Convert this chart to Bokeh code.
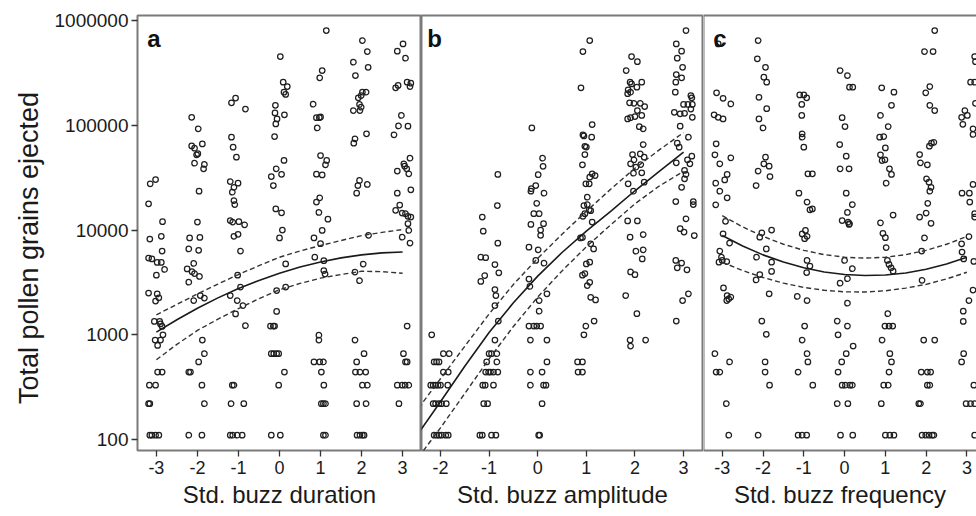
from bokeh.plotting import figure
from bokeh.models import FixedTicker, LinearAxis, Span, Label, Range1d
from bokeh.layouts import row
from bokeh.embed import file_html
from bokeh.resources import INLINE

FONT = "Liberation Sans"

# ---------------- data ----------------
y_ticks = [100, 1000, 10000, 100000, 1000000]
y_tick_labels = ["100", "1000", "10000", "100000", "1000000"]
y_title = "Total pollen grains ejected"

a_ticks = [-3, -2, -1, 0, 1, 2, 3]
a_tick_labels = ["-3", "-2", "-1", "0", "1", "2", "3"]
b_ticks = [-2, -1, 0, 1, 2, 3]
b_tick_labels = ["-2", "-1", "0", "1", "2", "3"]
c_ticks = [-3, -2, -1, 0, 1, 2, 3]
c_tick_labels = ["-3", "-2", "-1", "0", "1", "2", "3"]
a_title = "Std. buzz duration"
b_title = "Std. buzz amplitude"
c_title = "Std. buzz frequency"
panel_letters = ["a", "b", "c"]

# panel a: jittered std. buzz duration / pollen grains
a_x = [-3.15, -3.02, -3.19, -2.85, -3.16, -2.88, -2.86, -3.19, -3.11, -2.98, -2.88, -2.80, -3.0, -3.19, -2.98, -2.94, -3.02,
       -3.05, -2.92, -2.90, -2.86, -3.03, -2.90, -2.97, -2.84, -2.97, -2.86, -3.17, -3.02, -3.19, -3.16, -3.16, -3.11, -3.02, -2.94,
       -2.14, -1.98, -2.14, -2.07, -1.88, -2.02, -1.99, -2.07, -1.83, -1.85, -1.96, -2.0, -2.19, -1.94, -2.21, -1.97, -2.25,
       -2.09, -2.13, -2.07, -1.95, -2.21, -2.09, -1.93, -1.83, -1.88, -1.97, -1.83, -2.21, -2.17, -1.89, -1.83, -2.21, -1.89,
       -1.17, -1.07, -0.83, -1.17, -1.13, -1.05, -1.20, -1.01, -1.11, -1.15, -1.11, -1.09, -1.20, -1.14, -0.99, -0.85, -1.11,
       -1.01, -0.95, -1.02, -1.20, -0.95, -1.03, -0.89, -1.07, -0.83, -1.11, -1.15, -1.18, -0.87, -1.20, -1.14, -1.03, -0.91,
       0.02, 0.09, 0.19, 0.11, 0.15, -0.10, -0.11, -0.06, -0.09, 0.12, -0.12, 0.11, -0.20, -0.08, 0.05, -0.15, -0.09, 0.05,
       0.07, 0.0, 0.15, -0.07, 0.15, -0.07, -0.22, -0.15, -0.12, -0.20, -0.14, -0.07, -0.02, 0.12, -0.02, -0.20, 0.02,
       1.14, 1.04, 0.98, 0.82, 0.90, 0.97, 1.0, 0.92, 1.0, 1.15, 1.12, 0.90, 1.04, 0.98, 0.90, 0.96, 1.18, 1.04, 0.84, 1.0,
       0.86, 1.08, 1.08, 1.11, 0.96, 0.96, 0.84, 0.98, 1.07, 1.02, 1.08, 1.02, 1.07, 1.12, 1.07, 1.12,
       2.02, 2.14, 1.80, 2.16, 1.85, 2.02, 1.92, 2.11, 1.99, 1.95, 1.80, 1.96, 1.99, 2.12, 1.84, 1.81, 1.95, 1.91, 1.88, 2.14,
       2.17, 2.04, 1.84, 1.95, 1.84, 2.06, 1.88, 1.85, 1.96, 2.10, 2.02, 2.14, 1.88, 2.11, 1.89, 1.96, 2.02, 2.06,
       3.01, 2.87, 3.07, 3.11, 3.18, 3.20, 2.83, 2.89, 2.97, 2.79, 2.90, 3.13, 3.18, 3.03, 2.87, 3.10, 3.15, 3.05, 3.20, 2.87,
       2.93, 2.83, 2.99, 3.07, 3.13, 3.20, 3.13, 3.15, 2.99, 3.18, 3.11, 3.02, 3.07, 3.11, 2.87, 2.99, 3.06, 3.15, 2.91]
a_y = [27600, 30300, 17800, 12000, 8200, 8700, 6300, 5400, 5300, 4900, 4900, 4200, 3700, 2500, 2450, 2250, 2100,
       1340, 1340, 1270, 1200, 890, 890, 790, 1000, 440, 440, 330, 330, 220, 220, 110, 110, 110, 110,
       119000, 92500, 63500, 60400, 66400, 52300, 53500, 43500, 42300, 38400, 23500, 11900, 8400, 8500, 6600, 6400, 4250,
       4800, 4000, 3840, 3600, 3180, 2120, 2370, 2240, 890, 550, 660, 440, 440, 330, 220, 110, 110,
       164000, 182000, 143000, 77000, 61800, 49600, 29000, 28000, 25600, 23000, 19100, 17500, 12300, 11900, 12000, 11200, 8700,
       9100, 6300, 3700, 2370, 2850, 2120, 1900, 1580, 1220, 330, 330, 220, 220, 110, 110, 110, 110,
       453000, 258000, 234000, 207000, 197000, 155000, 131000, 115000, 103000, 126000, 78000, 46100, 32400, 38400, 34000, 26600, 15900, 14600,
       10000, 8400, 4750, 2640, 2850, 1670, 1210, 1210, 1210, 660, 660, 660, 660, 440, 330, 110, 110,
       803000, 333000, 284000, 159000, 118000, 118000, 120000, 94400, 51400, 46100, 41900, 34100, 33600, 20300, 18500, 14700, 12700, 9900, 8400, 7400,
       5500, 5100, 4100, 3800, 990, 890, 550, 550, 550, 440, 330, 220, 220, 220, 110, 110,
       644000, 506000, 400000, 358000, 298000, 207000, 183000, 207000, 192000, 158000, 138000, 138000, 149000, 82800, 74200, 67400, 29700, 26600, 22500, 27200,
       8900, 4730, 3970, 3280, 890, 660, 550, 440, 440, 440, 330, 330, 220, 220, 110, 110, 110, 110,
       598000, 509000, 437000, 258000, 234000, 252000, 228000, 240000, 124000, 81000, 98600, 98000, 48500, 42900, 36500, 38400, 34400, 40700, 24200, 22500,
       17300, 15400, 14500, 14300, 13500, 13300, 11500, 9900, 8550, 7500, 1210, 660, 550, 550, 330, 330, 330, 330, 220]

# panel b: jittered std. buzz amplitude / pollen grains
b_x = [-2.18, -1.94, -1.82, -2.13, -2.08, -2.03, -1.94, -1.84, -2.20, -2.15, -2.10, -2.05, -2.00, -1.85, -2.15, -2.10, -2.03,
       -1.98, -1.88, -2.13, -2.08, -2.03, -1.98, -1.89, -1.84,
       -0.82, -0.83, -1.14, -1.12, -0.82, -1.17, -1.07, -0.88, -0.80, -1.17, -1.09, -0.88, -0.86, -0.88, -0.81, -0.88, -1.0,
       -0.95, -0.84, -1.05, -0.84, -1.07, -1.01, -0.97, -0.91, -0.82, -1.13, -1.08, -0.91, -1.11, -1.03, -1.19, -1.14, -0.95, -0.86,
       -0.12, 0.10, 0.11, 0.01, -0.14, -0.04, -0.13, 0.13, -0.02, -0.08, 0.03, -0.14, 0.12, 0.06, 0.06, -0.18, 0.01, -0.04,
       0.13, -0.18, -0.16, 0.19, 0.03, 0.03, -0.18, -0.08, -0.02, 0.06, -0.15, 0.19, 0.19, -0.15, 0.09, -0.15, 0.12, 0.17, 0.09, 0.02, 0.04,
       1.07, 0.93, 0.89, 1.12, 0.93, 0.95, 1.11, 0.97, 1.0, 0.97, 0.92, 1.12, 1.18, 1.07, 0.99, 1.06, 1.02, 0.95, 1.02, 1.06,
       1.09, 0.97, 0.93, 1.12, 0.88, 0.92, 1.09, 1.15, 1.0, 1.07, 0.97, 0.92, 1.02, 1.07, 1.09, 1.19, 1.16, 0.99, 0.95, 0.82,
       0.92, 0.83, 0.92,
       1.93, 2.05, 1.82, 1.90, 1.93, 2.14, 2.04, 1.86, 1.91, 1.85, 1.89, 1.98, 2.11, 2.20, 2.05, 1.85, 1.91, 2.0, 2.14, 2.09,
       2.17, 2.17, 1.95, 2.11, 1.98, 2.19, 1.91, 2.12, 2.02, 1.97, 2.14, 1.86, 2.19, 1.97, 1.85, 2.05, 2.17, 1.90, 2.02, 2.17,
       2.15, 1.91, 2.0, 1.81, 2.04, 1.90, 2.22, 1.91,
       3.05, 2.85, 2.96, 2.87, 2.98, 2.85, 2.96, 2.84, 2.83, 3.15, 3.17, 3.0, 3.09, 3.18, 2.81, 2.93, 3.02, 3.15, 3.18, 2.93,
       3.10, 2.87, 2.91, 3.17, 2.85, 3.08, 3.13, 3.02, 3.05, 3.02, 2.96, 2.84, 3.20, 3.20, 3.05, 2.93, 3.01, 3.22,
       2.84, 2.87, 2.96, 3.07, 3.10, 2.98, 2.85]
b_y = [1000, 660, 660, 550, 550, 550, 440, 440, 330, 330, 330, 330, 330, 330, 220, 220, 220,
       220, 220, 110, 110, 110, 110, 110, 110,
       33900, 17100, 13300, 9750, 7480, 5500, 5450, 4680, 3900, 3230, 3670, 2700, 2370, 1900, 1350, 890, 660,
       660, 660, 550, 550, 440, 440, 440, 440, 440, 330, 330, 330, 220, 220, 110, 110, 110, 110,
       94300, 48500, 40600, 33700, 23500, 26600, 24800, 22500, 18000, 14300, 14300, 11300, 11500, 10000, 8900, 6850, 6470, 5120,
       4820, 3400, 2890, 2460, 2120, 1680, 1210, 1210, 1210, 1210, 890, 890, 550, 440, 440, 330, 330, 330, 220, 110, 110,
       644000, 506000, 228000, 101600, 81000, 79000, 77000, 63000, 62000, 52500, 41900, 34400, 33100, 31900, 27600, 27600, 20600, 17100, 17500, 15600,
       15300, 14300, 13500, 11900, 8400, 8500, 7380, 6600, 4750, 4930, 3840, 3700, 2950, 3170, 2280, 2150, 1350, 1210, 1000, 550,
       550, 440, 440,
       453000, 405000, 333000, 258000, 248000, 258000, 231000, 218000, 207000, 200000, 164000, 162000, 162000, 151000, 138000, 115000, 118000, 121000, 124000, 97000,
       92500, 65500, 52500, 53300, 46800, 49600, 42900, 42200, 39800, 34900, 35200, 27600, 28600, 23500, 12200, 12200, 9050, 8550, 6280, 6470,
       5300, 3980, 3750, 2370, 1590, 890, 890, 780,
       803000, 598000, 509000, 437000, 358000, 305000, 284000, 258000, 207000, 192000, 183000, 158000, 158000, 158000, 133000, 128500, 130000, 143000, 119000, 98000,
       77000, 67500, 61700, 50700, 43800, 46800, 42900, 37000, 33900, 30800, 25600, 18700, 18700, 17500, 12800, 10300, 9550, 8850,
       5120, 4360, 4830, 4170, 2460, 2120, 1350]

# panel c: jittered std. buzz frequency / pollen grains
c_x = [-3.10, -3.14, -2.98, -2.79, -3.20, -3.10, -2.98, -3.15, -3.18, -2.79, -3.06, -2.88, -2.94, -3.16, -3.06, -2.88, -3.16,
       -2.92, -2.98, -2.82, -3.06, -3.02, -3.08, -3.0, -2.89, -2.97, -2.88, -2.84, -2.79, -2.89, -3.18, -2.82, -3.15, -3.06, -2.90, -2.84,
       -2.12, -2.14, -1.94, -1.98, -1.91, -2.10, -1.91, -2.10, -2.0, -1.94, -1.98, -1.85, -2.12, -1.83, -2.17,
       -1.79, -2.03, -2.08, -1.92, -2.16, -1.79, -1.79, -2.08, -2.17, -1.85, -2.03, -1.92, -1.95, -1.95, -1.84, -2.12,
       -1.10, -1.0, -0.93, -1.05, -1.05, -1.04, -1.04, -1.0, -0.90, -0.79, -1.12, -0.92, -0.85, -0.79,
       -1.04, -0.96, -0.92, -0.98, -0.92, -0.85, -0.93, -1.16, -0.92, -0.98, -1.04, -0.92, -0.90, -1.14, -0.78, -1.14, -1.04, -0.93,
       -0.11, 0.07, 0.12, 0.20, -0.06, 0.01, -0.12, 0.04, -0.11, 0.11, 0.04, 0.19, 0.07,
       -0.06, 0.09, 0.12, 0.11, 0.0, 0.19, 0.07, -0.11, 0.07, -0.18, 0.07, -0.16, 0.21, 0.04, -0.07, -0.16, -0.06, 0.02, 0.13, 0.19,
       -0.18, 0.08, -0.10, 0.20,
       0.91, 1.21, 1.15, 0.88, 1.07, 0.86, 0.96, 1.0, 0.88, 0.99, 0.92, 1.10, 1.15, 1.02,
       1.19, 0.88, 0.94, 1.0, 1.02, 1.05, 1.09, 1.14, 1.19, 1.06, 0.99, 1.09, 1.18, 0.92, 1.11, 1.15, 1.09, 0.96, 1.07, 0.90,
       1.0, 1.11, 1.21,
       2.21, 1.96, 2.17, 1.99, 2.09, 2.09, 2.21, 2.13, 2.19, 2.08, 1.84, 1.86, 2.03, 2.01, 2.07, 2.12, 2.09, 2.04, 1.84, 2.0, 2.12,
       1.96, 1.89, 1.90, 1.94, 2.21, 1.88, 2.03, 2.11, 2.03, 2.09, 1.82, 1.86, 1.90, 1.99, 2.07, 2.15, 2.19,
       3.19, 3.21, 3.09, 3.19, 3.21, 2.95, 2.87, 3.01, 2.90, 3.15, 3.15, 2.88, 3.06, 3.15, 3.07, 3.19, 3.19, 3.05, 2.87, 2.88,
       2.92, 3.17, 3.15, 3.05, 2.91, 2.91, 2.92, 2.87, 3.17, 2.98, 3.09, 3.19, 3.19]
c_y = [598000, 204000, 181000, 160000, 126000, 119000, 115000, 66500, 52300, 48900, 42900, 33900, 30100, 28000, 23500, 20300, 17400,
       12100, 9200, 7500, 6300, 5500, 4930, 5130, 5000, 2800, 2370, 2200, 2290, 2120, 660, 550, 440, 440, 220, 110,
       644000, 431000, 358000, 288000, 258000, 185000, 144000, 115000, 94400, 49600, 42900, 40700, 36500, 32400, 26600,
       10000, 9400, 8550, 6600, 5500, 4930, 4020, 3760, 3340, 2460, 1350, 1010, 550, 440, 330, 110,
       195000, 195000, 183000, 158000, 124000, 82800, 77000, 61800, 34400, 34400, 22500, 18500, 15600, 15900,
       9180, 9900, 8700, 8260, 5130, 4530, 3920, 2320, 2120, 1210, 890, 660, 550, 440, 330, 110, 110, 110,
       333000, 298000, 231000, 231000, 118000, 97300, 65500, 50700, 38400, 38400, 22500, 17500, 14700,
       12300, 11900, 11500, 11300, 5120, 4270, 3430, 3110, 2000, 1350, 1210, 1000, 780, 660, 550, 440, 330, 330, 330, 330,
       220, 220, 110, 110,
       228000, 207000, 155000, 124000, 97300, 77000, 78100, 60800, 52300, 46800, 46000, 38400, 33900, 28000,
       13900, 11700, 9300, 8450, 6800, 5130, 4690, 4360, 4050, 1590, 1210, 1210, 1210, 890, 660, 550, 440, 330, 330, 220,
       110, 110, 110,
       803000, 506000, 506000, 204000, 234000, 155000, 138000, 67500, 68800, 63100, 52500, 43800, 41900, 30800, 28600, 25600, 23500, 18000, 13300, 14500, 11600,
       8400, 6300, 3310, 890, 890, 440, 440, 440, 330, 330, 220, 220, 110, 110, 110, 110, 110,
       453000, 405000, 258000, 258000, 162000, 138000, 119000, 124000, 102000, 92500, 81700, 22500, 22500, 27200, 18500, 14300, 13300, 8660, 7380, 6160,
       5300, 5010, 2670, 2120, 1680, 1340, 660, 550, 330, 220, 220, 220, 110]

# fitted curves (model prediction and confidence band)
ac_x = [-3, -2.5, -2, -1.5, -1, -0.5, 0, 0.5, 1, 1.5, 2, 2.5, 3]
a_fit = [1060, 1390, 1790, 2250, 2760, 3300, 3870, 4430, 4960, 5420, 5790, 6050, 6170]
a_upper = [1550, 1950, 2450, 3050, 3760, 4570, 5500, 6310, 7110, 7940, 8850, 9500, 10100]
a_lower = [577, 810, 1100, 1410, 1780, 2210, 2690, 3090, 3470, 3760, 4040, 4000, 3870]

b_cx = [-2.45, -2, -1.5, -1, -0.5, 0, 0.5, 1, 1.5, 2, 2.5, 3]
b_fit = [115, 229, 501, 1050, 2020, 3630, 6100, 9770, 15100, 23700, 36300, 55300]
b_upper = [200, 380, 776, 1580, 3020, 5370, 9120, 15100, 24500, 38900, 58200, 85100]
b_lower = [68, 129, 275, 589, 1200, 2290, 4070, 6920, 11200, 17800, 26300, 36300]

c_fit = [8850, 7030, 5790, 4940, 4360, 3980, 3760, 3680, 3720, 3890, 4220, 4730, 5500]
c_upper = [13700, 10700, 8690, 7310, 6400, 5820, 5500, 5390, 5500, 5820, 6400, 7310, 8670]
c_lower = [4930, 4100, 3520, 3110, 2830, 2660, 2570, 2560, 2630, 2790, 3030, 3410, 3950]

# ---------------- styling ----------------
INK = "#1a1a1a"
FRAME = "#7a7a7a"
y_range = Range1d(10 ** 1.895, 10 ** 6.048)


def make_panel(width, x_start, x_end, left_border, ticks, tick_labels, xlabel, show_y):
    p = figure(width=width, height=516, x_range=Range1d(x_start, x_end), y_range=y_range,
               y_axis_type="log", output_backend="svg", toolbar_location=None,
               min_border_left=left_border, min_border_right=0, min_border_top=15, min_border_bottom=66,
               y_axis_location="left" if show_y else None)
    p.grid.visible = False
    p.background_fill_color = "white"
    p.border_fill_color = "white"
    p.outline_line_color = FRAME
    p.outline_line_width = 2
    ax = p.xaxis[0]
    ax.ticker = FixedTicker(ticks=ticks)
    ax.major_label_overrides = dict(zip(ticks, tick_labels))
    ax.axis_line_color = None
    ax.major_tick_in = 0
    ax.major_tick_out = 6
    ax.major_tick_line_color = "#333333"
    ax.major_tick_line_width = 1.3
    ax.minor_tick_line_color = None
    ax.major_label_text_font = FONT
    ax.major_label_text_font_size = "18px"
    ax.major_label_text_color = INK
    ax.major_label_standoff = 4
    ax.axis_label = xlabel
    ax.axis_label_text_font = FONT
    ax.axis_label_text_font_size = "24px"
    ax.axis_label_text_font_style = "normal"
    ax.axis_label_text_color = INK
    ax.axis_label_standoff = 4
    if show_y:
        ay = p.yaxis[0]
        ay.ticker = FixedTicker(ticks=y_ticks)
        ay.major_label_overrides = dict(zip(y_ticks, y_tick_labels))
        ay.axis_line_color = None
        ay.major_tick_in = 0
        ay.major_tick_out = 6
        ay.major_tick_line_color = "#333333"
        ay.major_tick_line_width = 1.3
        ay.minor_tick_line_color = None
        ay.major_label_text_font = FONT
        ay.major_label_text_font_size = "19px"
        ay.major_label_text_color = INK
        ay.major_label_standoff = 3
        ay.axis_label = y_title + "\u00a0\u00a0\u00a0\u00a0"
        ay.axis_label_text_font = FONT
        ay.axis_label_text_font_size = "27px"
        ay.axis_label_text_font_style = "normal"
        ay.axis_label_text_color = INK
        ay.axis_label_standoff = 8
    return p


def draw(p, xs, ys, cx, fit, upper, lower, letter, lx):
    p.scatter(xs, ys, marker="circle", size=5.5, fill_color=None, line_color="#1f1f1f", line_width=1.25)
    p.line(cx, upper, line_color="#333333", line_width=1.4, line_dash="5 3")
    p.line(cx, lower, line_color="#333333", line_width=1.4, line_dash="5 3")
    p.line(cx, fit, line_color="#1a1a1a", line_width=1.6)
    p.add_layout(Label(x=lx, y=680000, text=letter, text_font=FONT, text_font_size="24px",
                       text_font_style="bold", text_color="#111111", text_baseline="alphabetic"))


pa = make_panel(421, -3.46, 3.46, 137, a_ticks, a_tick_labels, a_title, True)
draw(pa, a_x, a_y, ac_x, a_fit, a_upper, a_lower, panel_letters[0], -3.22)

pb = make_panel(282, -2.39, 3.41, 0, b_ticks, b_tick_labels, b_title, False)
draw(pb, b_x, b_y, b_cx, b_fit, b_upper, b_lower, panel_letters[1], -2.27)

pc = make_panel(273, -3.46, 3.235, 0, c_ticks, c_tick_labels, c_title, False)
pc.outline_line_color = None
pc.xaxis[0].axis_line_color = FRAME
pc.xaxis[0].axis_line_width = 2
top = LinearAxis(ticker=FixedTicker(ticks=[]), axis_line_color=FRAME, axis_line_width=2,
                 major_tick_line_color=None, minor_tick_line_color=None, major_label_standoff=0,
                 major_label_text_font_size="0px")
pc.add_layout(top, "above")
pc.add_layout(Span(location=-3.46, dimension="height", line_color=FRAME, line_width=2))
draw(pc, c_x, c_y, ac_x, c_fit, c_upper, c_lower, panel_letters[2], -3.22)

layout = row(pa, pb, pc)
open("out.html", "w").write(file_html(layout, INLINE))
